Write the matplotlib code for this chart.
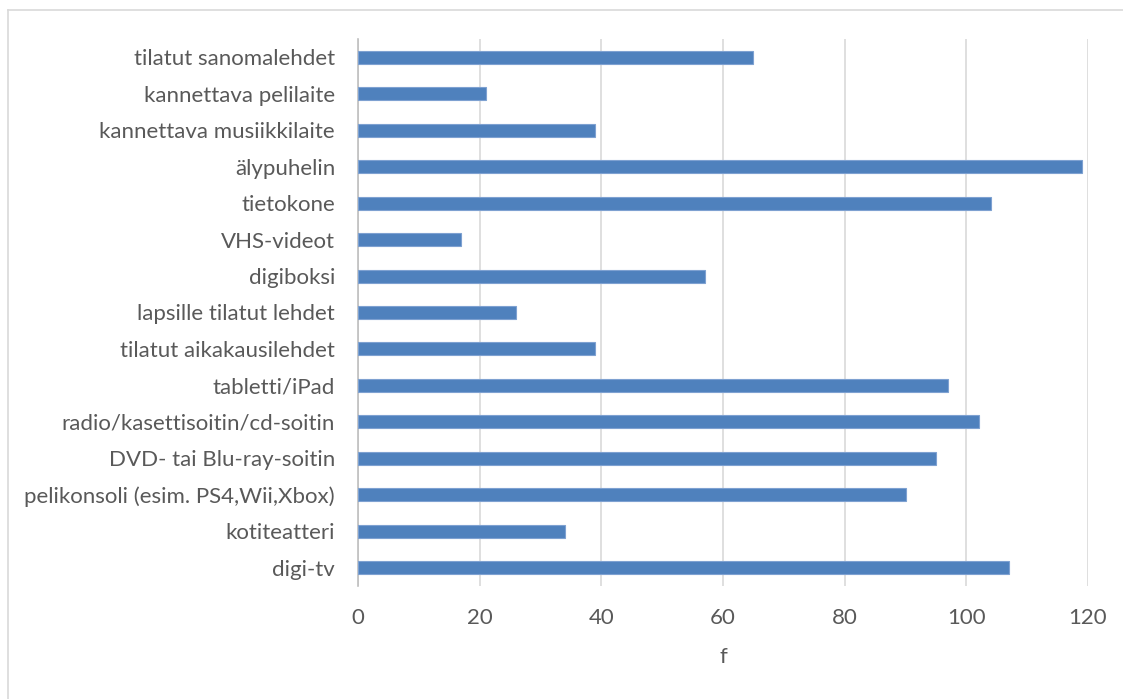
import matplotlib
matplotlib.use("Agg")
import matplotlib.pyplot as plt
from matplotlib.lines import Line2D

categories = [
    "digi-tv",
    "kotiteatteri",
    "pelikonsoli (esim. PS4,Wii,Xbox)",
    "DVD- tai Blu-ray-soitin",
    "radio/kasettisoitin/cd-soitin",
    "tabletti/iPad",
    "tilatut aikakausilehdet",
    "lapsille tilatut lehdet",
    "digiboksi",
    "VHS-videot",
    "tietokone",
    "älypuhelin",
    "kannettava musiikkilaite",
    "kannettava pelilaite",
    "tilatut sanomalehdet",
]
values = [107, 34, 90, 95, 102, 97, 39, 26, 57, 17, 104, 119, 39, 21, 65]
xticks = [0, 20, 40, 60, 80, 100, 120]
xlabel = "f"

plt.rcParams['font.family'] = ['Lato', 'DejaVu Sans']
text_color = "#595959"

fig = plt.figure(figsize=(11.23, 6.99), dpi=100)
ax = fig.add_axes([358/1123, 1 - 586/699, (1088-358)/1123, (586-39)/699])

ypos = list(range(len(categories)))
ax.barh(ypos, values, height=0.355, color="#4F81BD", edgecolor="#7EA1D1", linewidth=0.8, zorder=3)

ax.set_xlim(0, 120)
ax.set_ylim(-0.5, len(categories) - 0.5)
ax.set_xticks(xticks)
ax.set_xticklabels([str(t) for t in xticks], fontsize=16, color=text_color)
ax.set_yticks(ypos)
ax.set_yticklabels(categories, fontsize=16, color=text_color)
ax.tick_params(axis='x', length=0, pad=15.5)
ax.tick_params(axis='y', length=0, pad=16.5)
ax.grid(axis='x', color="#D9D9D9", linewidth=1.2, zorder=0)
for s in ['top', 'right', 'bottom']:
    ax.spines[s].set_visible(False)
ax.spines['left'].set_color("#BFBFBF")
ax.spines['left'].set_linewidth(1.2)
ax.set_xlabel(xlabel, fontsize=16, color=text_color, labelpad=14)

# outer chart border (top and left visible)
fig.add_artist(Line2D([8/1123, 8/1123], [0, 1 - 10/699], transform=fig.transFigure, color="#D9D9D9", linewidth=1.2))
fig.add_artist(Line2D([8/1123, 1], [1 - 10/699, 1 - 10/699], transform=fig.transFigure, color="#D9D9D9", linewidth=1.2))

fig.savefig("out.png", dpi=100)
